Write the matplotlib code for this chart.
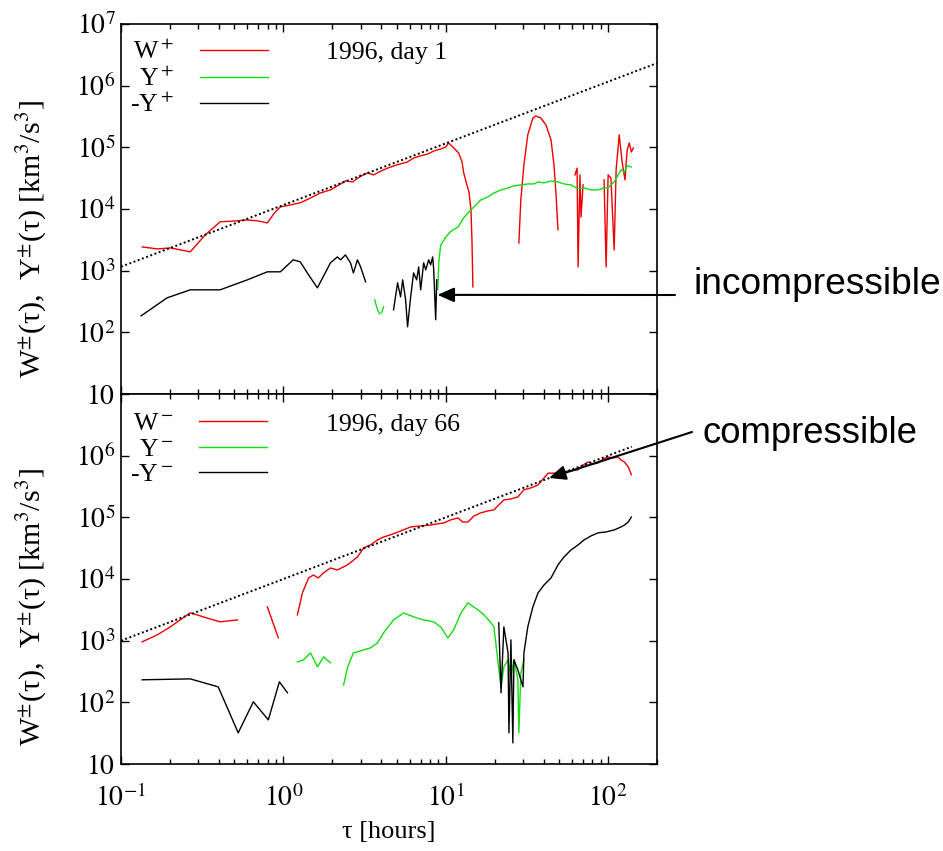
import numpy as np
import matplotlib
matplotlib.use('Agg')
import matplotlib.pyplot as plt
from matplotlib.lines import Line2D
from matplotlib.ticker import FixedLocator, FuncFormatter, LogLocator, NullLocator

plt.rcParams['font.family'] = ['Liberation Serif', 'DejaVu Serif']
plt.rcParams['mathtext.fontset'] = 'stix'

RED, GREEN, BLACK = '#ee0000', '#11dd11', '#000000'

# ---- top panel: 1996, day 1 ----
# W+ (red), pieces between sign changes
tau_wp_a = [0.135, 0.167, 0.201, 0.267, 0.330, 0.408, 0.506, 0.600, 0.701, 0.797, 0.880,
            0.958, 1.10, 1.27, 1.47, 1.69, 1.95, 2.15, 2.41, 2.67, 2.99, 3.30, 3.59, 3.97,
            4.38, 4.77, 5.27, 5.82, 6.34, 7.01, 7.74, 8.43, 9.31, 10.0, 10.4, 11.2, 12.0,
            12.6, 12.9, 13.5, 13.9, 14.3, 14.5, 14.7]
wp_a = [2430, 2250, 2340, 2020, 3800, 6200, 6400, 6650, 6400, 5950, 8600,
        10800, 11600, 12600, 15100, 18200, 20400, 23700, 28500, 27500, 34000, 38500, 35700, 41000,
        46000, 50000, 54000, 58000, 67000, 73000, 78000, 87000, 94000, 101000, 118000, 98000, 81000,
        58000, 38500, 24600, 18900, 9700, 3150, 546]
tau_wp_b = [28.2, 29.0, 30.3, 32.0, 34.4, 35.9, 38.5, 41.4, 44.5, 46.4, 47.8, 49.1]
wp_b = [2800, 14000, 52000, 159000, 299000, 323000, 299000, 231000, 132000, 52000, 16900, 4600]
tau_wp_c = [62.5, 64.4, 65.3, 67.1, 68.1, 70.1]
wp_c = [35700, 46000, 1150, 35700, 7400, 24600]
tau_wp_d = [94.4, 97.2, 100, 104, 109, 112, 117, 122, 127, 131, 135, 139, 143]
wp_d = [29600, 1150, 35700, 31900, 2170, 43000, 159000, 58000, 29600, 91000, 118000, 84000, 98000]

# Y+ (green)
tau_yp_a = [3.65, 3.80, 3.92]
yp_a = [337, 232, 200]
tau_yp_b = [4.03, 4.14]
yp_b = [207, 259]
tau_yp_c = [8.93, 9.06, 9.31, 10.0, 10.7, 11.9, 12.9, 14.3, 15.3, 16.4, 18.2, 19.8, 21.9,
            24.2, 26.3, 29.0, 32.0, 34.9, 37.0, 40.3, 44.5, 49.1, 53.5, 59.1, 65.3, 71.1,
            78.5, 86.7, 94.4, 100, 104, 109, 114, 120, 126, 131, 139]
yp_c = [489, 1390, 2600, 3500, 4300, 5100, 7200, 9700, 11600, 14000, 15700, 18200, 20400,
        22000, 23700, 24600, 25500, 25500, 27500, 26500, 28500, 27500, 25500, 24600, 21200, 22000,
        20400, 20400, 22000, 22000, 24600, 27500, 34000, 43000, 40000, 50000, 48000]

# -Y+ (black)
tau_myp_a = [0.133, 0.192, 0.267, 0.408, 0.600, 0.797, 0.958, 1.15, 1.27, 1.43, 1.62, 1.95,
             2.15, 2.25, 2.41, 2.59, 2.70, 2.86, 2.99, 3.21]
myp_a = [185, 362, 489, 489, 710, 958, 958, 1500, 1390, 855, 526, 1340,
         1670, 1500, 1800, 1340, 920, 1500, 1150, 658]
tau_myp_b = [4.77, 5.05, 5.27, 5.43, 5.66, 5.82, 6.08, 6.34, 6.62, 6.81, 7.01, 7.31, 7.53,
             7.85, 8.07, 8.31, 8.43, 8.67, 8.80]
myp_b = [232, 634, 376, 710, 337, 123, 376, 920, 710, 1150, 489, 1340, 1030,
         1500, 1240, 1670, 1030, 160, 710]

# linear fit lines (end points)
fit_top_tau, fit_top = [0.1, 200], [1160, 2.32e6]

# ---- bottom panel: 1996, day 66 ----
tau_wm_a = [0.135, 0.167, 0.201, 0.231, 0.267, 0.294, 0.321, 0.408, 0.520]
wm_a = [957, 1240, 1670, 2170, 2820, 2620, 2430, 2020, 2170]
tau_wm_b = [0.797, 0.931]
wm_b = [3530, 1110]
tau_wm_c = [1.22, 1.31, 1.43, 1.53, 1.64, 1.77, 1.95, 2.15, 2.48, 2.86, 3.12, 3.44, 3.80,
            4.14, 4.57, 5.27, 6.08, 7.01, 8.07, 8.80, 9.72, 10.7, 11.9, 12.7, 13.7, 14.9,
            16.4, 18.2, 19.8, 21.2, 22.8, 25.2, 27.8, 30.3, 33.5, 37.0, 40.3, 42.7, 46.4,
            51.3, 56.6, 65.3, 70.1, 75.3, 80.8, 86.7, 93.1, 100, 107, 115, 120, 126, 133, 139]
wm_c = [2620, 5950, 10400, 11600, 10400, 12600, 15100, 14000, 16900, 22800, 32000, 35700, 43000,
        48000, 52000, 60000, 69800, 72600, 75000, 78200, 81000, 90800, 98000, 84000, 84000, 105000,
        118000, 127000, 132000, 159000, 191000, 199000, 214000, 280000, 300000, 335000, 436000,
        520000, 520000, 540000, 565000, 590000, 706000, 790000, 733000, 760000, 885000, 950000,
        918000, 950000, 851000, 790000, 660000, 490000]

tau_ym_a = [1.22, 1.33, 1.47, 1.62, 1.77, 1.95]
ym_a = [453, 489, 634, 376, 546, 437]
tau_ym_b = [2.35, 2.48, 2.59, 2.70, 2.86, 3.12, 3.44, 3.80, 4.14, 4.77, 5.51, 6.34, 7.31,
            8.43, 9.31, 10.3, 11.2, 12.4, 13.7, 15.8, 17.2, 19.0, 19.8, 20.9, 21.9, 22.8,
            24.2, 25.2, 26.3, 27.8, 28.2, 29.0, 30.3]
ym_b = [192, 362, 489, 634, 658, 710, 764, 920, 1340, 2170, 2820, 2430, 2170,
        2020, 1670, 1110, 1500, 2820, 4100, 3150, 2620, 1950, 1670, 489, 178, 376,
        489, 259, 489, 232, 32, 301, 489]

tau_mym_a = [0.135, 0.267, 0.397, 0.527, 0.653, 0.808, 0.945, 1.06]
mym_a = [232, 240, 178, 32, 102, 52, 215, 143]
tau_mym_b = [21.2, 21.9, 22.8, 24.2, 24.5, 25.2, 25.9, 26.3, 27.8, 29.9, 30.3, 32.0, 34.4,
             37.0, 40.3, 44.5, 49.1, 53.5, 59.1, 65.3, 71.1, 78.5, 86.7, 97.2, 109, 120,
             126, 133, 139]
mym_b = [1950, 143, 1670, 634, 32, 1030, 22, 489, 337, 178, 634, 1670, 3530,
         5950, 8000, 10400, 16900, 22800, 29600, 35700, 43000, 50000, 56000, 58000, 62500, 69800,
         75000, 84000, 101000]

fit_bot_tau, fit_bot = [0.1, 140], [1000, 1.4e6]

top_curves = [(tau_wp_a, wp_a, RED), (tau_wp_b, wp_b, RED), (tau_wp_c, wp_c, RED),
              (tau_wp_d, wp_d, RED), (tau_yp_a, yp_a, GREEN), (tau_yp_b, yp_b, GREEN),
              (tau_yp_c, yp_c, GREEN), (tau_myp_a, myp_a, BLACK), (tau_myp_b, myp_b, BLACK)]
bot_curves = [(tau_wm_a, wm_a, RED), (tau_wm_b, wm_b, RED), (tau_wm_c, wm_c, RED),
              (tau_ym_a, ym_a, GREEN), (tau_ym_b, ym_b, GREEN),
              (tau_mym_a, mym_a, BLACK), (tau_mym_b, mym_b, BLACK)]

fig = plt.figure(figsize=(9.43, 8.51), dpi=100)
L, Wd, H = 121/943, 536/943, 370/851
ax1 = fig.add_axes([L, 1 - 394/851, Wd, H])
ax2 = fig.add_axes([L, 1 - 764/851, Wd, H])


def ylab(v, pos, skip_top=False):
    n = int(round(np.log10(v)))
    if skip_top and n == 7:
        return ""
    return "$10$" if n == 1 else f"$10^{{{n}}}$"


for ax, curves, (ft, fv) in [(ax1, top_curves, (fit_top_tau, fit_top)),
                              (ax2, bot_curves, (fit_bot_tau, fit_bot))]:
    for t, v, c in curves:
        ax.plot(t, v, color=c, lw=1.0)
    ax.plot(ft, fv, color='k', lw=1.4, ls=(0, (1, 1.3)), zorder=3)
    ax.set_xscale('log')
    ax.set_yscale('log')
    ax.set_xlim(0.1, 200)
    ax.set_ylim(10, 1e7)
    ax.yaxis.set_major_locator(FixedLocator([1e1, 1e2, 1e3, 1e4, 1e5, 1e6, 1e7]))
    ax.yaxis.set_minor_locator(NullLocator())
    ax.xaxis.set_major_locator(LogLocator(base=10, numticks=10))
    ax.xaxis.set_minor_locator(LogLocator(base=10, subs=np.arange(2, 10), numticks=30))
    ax.tick_params(which='both', direction='in', top=True, right=True, width=1.0,
                   labelsize=20)
    ax.tick_params(which='major', length=6)
    ax.tick_params(which='minor', length=3.5)
    ax.tick_params(axis='y', pad=4)
    ax.tick_params(axis='x', pad=15)
    for s in ax.spines.values():
        s.set_linewidth(1.2)

ax1.yaxis.set_major_formatter(FuncFormatter(lambda v, p: ylab(v, p)))
ax2.yaxis.set_major_formatter(FuncFormatter(lambda v, p: ylab(v, p, skip_top=True)))
ax1.tick_params(axis='x', labelbottom=False)
ax2.xaxis.set_major_formatter(FuncFormatter(lambda v, p: f"$10^{{{int(round(np.log10(v)))}}}$"))

# legends: label first, then the line sample, as gnuplot does
for ax, sign, ttl, ytop in [(ax1, '+', '1996, day 1', 0.957), (ax2, '-', '1996, day 66', 0.951)]:
    handles = [Line2D([], [], color=RED, lw=1.0), Line2D([], [], color=GREEN, lw=1.0),
               Line2D([], [], color=BLACK, lw=1.0)]
    labels = [f"W$^{sign}$", f"Y$^{sign}$", f"-Y$^{sign}$"]
    ax.legend(handles, labels, loc='upper left', bbox_to_anchor=(0.017, ytop),
              frameon=False, markerfirst=False, handlelength=2.65, handletextpad=1.0,
              labelspacing=0.1, borderaxespad=0, borderpad=0, fontsize=18.5)
    ax.text(0.382, ytop - 0.035, ttl, transform=ax.transAxes, fontsize=18.5,
            ha='left', va='center')

ylabel = r"W$^{\pm}$(τ),  Y$^{\pm}$(τ) [km$^3$/s$^3$]"
fig.text(32/943, 1 - 239/851, ylabel, rotation=90, ha='center', va='center', fontsize=21.5)
fig.text(32/943, 1 - 607/851, ylabel, rotation=90, ha='center', va='center', fontsize=21.5)
fig.text(389/943, 1 - 832/851, "τ [hours]", ha='center', va='center', fontsize=19)

# annotations
arrow = dict(arrowstyle='-|>,head_length=0.5,head_width=0.22', color='k', lw=1.5,
             mutation_scale=20, shrinkA=0, shrinkB=0)
ax1.annotate("", xy=(8.9, 405), xycoords='data', xytext=(675/943, 1 - 295/851),
             textcoords='figure fraction', arrowprops=arrow, annotation_clip=False)
ax2.annotate("", xy=(43.3, 4.35e5), xycoords='data', xytext=(692/943, 1 - 432/851),
             textcoords='figure fraction', arrowprops=arrow, annotation_clip=False)
fig.text(694/943, 1 - 285/851, "incompressible", family='Liberation Sans', fontsize=26.7,
         ha='left', va='center')
fig.text(703/943, 1 - 433/851, "compressible", family='Liberation Sans', fontsize=26.3,
         ha='left', va='center')

fig.savefig("out.png", dpi=100)
